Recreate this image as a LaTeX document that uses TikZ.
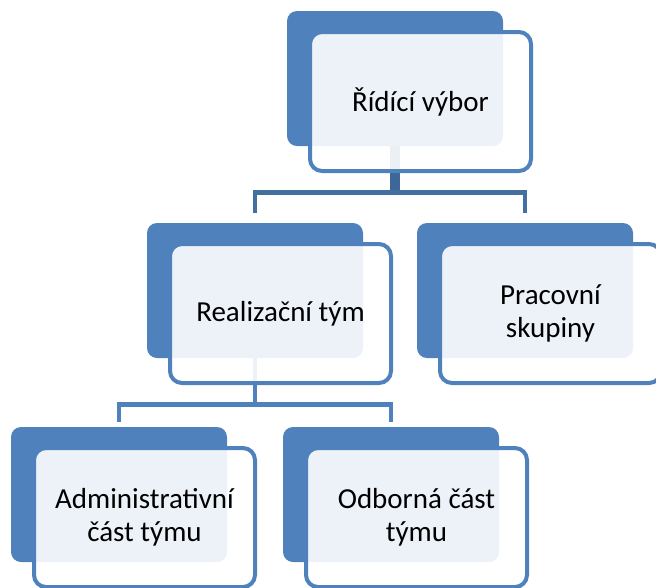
\documentclass[tikz,border=0pt]{standalone}
\usepackage{fontspec}
\setmainfont{Carlito}
\usepackage{tikz}
\usetikzlibrary{positioning,calc}
\definecolor{boxblue}{HTML}{4F81BD}
\definecolor{linkblue}{HTML}{44709F}
\definecolor{stubblue}{HTML}{3C6798}

\begin{document}
\begin{tikzpicture}[x=0.75pt, y=-0.75pt, line join=miter]
\tikzstyle{back}=[draw=none,fill=boxblue,rounded corners=7.5pt,minimum width=162pt,minimum height=101.25pt,inner sep=0pt]
\tikzstyle{front}=[draw=boxblue,line width=3pt,fill=white,fill opacity=0.9,text opacity=1,rounded corners=9pt,minimum width=165.75pt,minimum height=104.25pt,inner sep=0pt,align=center,font=\fontsize{21.75pt}{24.75pt}\selectfont]
\tikzstyle{link}=[draw=linkblue,line width=3.5pt]
\tikzstyle{linktwo}=[draw=boxblue,line width=3.5pt]
\useasboundingbox (0,0) rectangle (656,587);
\fill[white] (0,0) rectangle (656,587);
\clip (0,0) rectangle (656,587);

% back boxes
\node[back] (ridici) at (395,78.5)  {};
\node[back] (realiz) at (255,290.5) {};
\node[back] (prac)   at (525,290.5) {};
\node[back] (admin)  at (119,494.5) {};
\node[back] (odbor)  at (391,494.5) {};

% connectors
\coordinate (bus1) at ($(ridici.south)+(0,46)$);
\coordinate (bus2) at ($(realiz.south)+(0,46)$);
\draw[link,draw=stubblue,line width=7.5pt] (ridici.south) -- (bus1);
\draw[link] ($(realiz.north)+(0,-10)$) |- (bus1) -| ($(prac.north)+(0,-10)$);
\draw[linktwo] (realiz.south) -- (bus2);
\draw[linktwo] ($(admin.north)+(0,-5)$) |- (bus2) -| ($(odbor.north)+(0,-5)$);

% front boxes
\node[front] (ridici-f) at ($(ridici)+(25.5,23)$) {Řídící výbor};
\node[front] (realiz-f) at ($(realiz)+(25.5,23)$) {Realizační tým};
\node[front] (prac-f)   at ($(prac)+(25.5,23)$)   {Pracovní\\skupiny};
\node[front] (admin-f)  at ($(admin)+(25.5,23)$)  {Administrativní\\část týmu};
\node[front] (odbor-f)  at ($(odbor)+(25.5,23)$)  {Odborná část\\týmu};
\end{tikzpicture}
\end{document}
